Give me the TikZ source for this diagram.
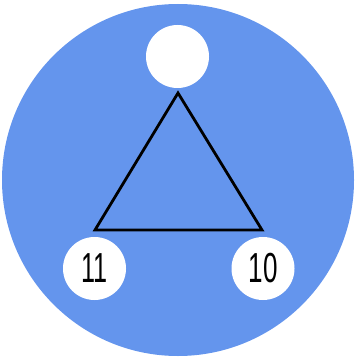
\documentclass[tikz,border=0pt]{standalone}
\usepackage{fontspec}
\setmainfont{Liberation Sans}
\definecolor{bgblue}{RGB}{100,149,237}
\begin{document}
\begin{tikzpicture}[x=1pt,y=-1pt,
  vert/.style={circle,fill=white,minimum size=63pt,inner sep=0pt},
  lbl/.style={font=\fontsize{40}{40}\selectfont},
  edge/.style={line width=2.8pt,line join=miter}]
\useasboundingbox (0,0) rectangle (356,358);
\node[circle,fill=bgblue,minimum size=352pt,inner sep=0pt] (bg) at (178,180) {};
\coordinate (ta) at (178,93);
\coordinate (tl) at (95,230);
\coordinate (tr) at (262,230);
\draw[edge] (ta) -- (tl) -- (tr) -- cycle;
\node[vert] (top) at (177.5,56.5) {};
\node[vert] (left) at (94.5,268.5) {\scalebox{0.6}[1]{\fontsize{42}{42}\selectfont 11}};
\node[vert] (right) at (263,268.5) {\scalebox{0.62}[1]{\fontsize{42}{42}\selectfont 10}};
\end{tikzpicture}
\end{document}
